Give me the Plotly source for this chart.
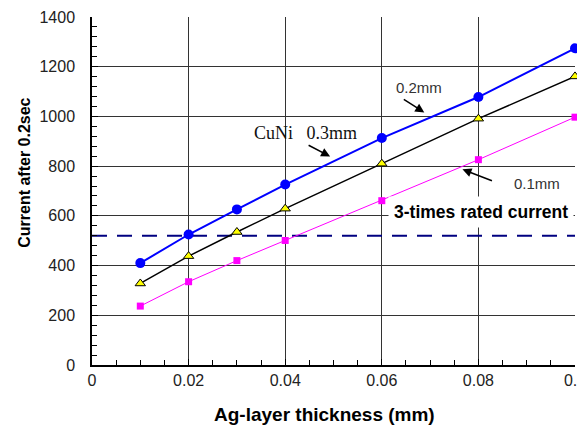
import plotly.graph_objects as go

thickness = [0.01, 0.02, 0.03, 0.04, 0.06, 0.08, 0.1]
cuni_02 = [410, 525, 626, 726, 913, 1078, 1274]
cuni_03 = [328, 438, 535, 629, 810, 991, 1161]
cuni_01 = [237, 335, 420, 501, 661, 826, 997]
rated_x = [0, 0.1]
rated_current = 520

x_ticks = [0, 0.02, 0.04, 0.06, 0.08, 0.1]
x_tick_labels = ["0", "0.02", "0.04", "0.06", "0.08", "0.1"]
y_ticks = [0, 200, 400, 600, 800, 1000, 1200, 1400]

FONT = "Arial, Liberation Sans, sans-serif"

fig = go.Figure()

fig.add_trace(go.Scatter(
    x=rated_x, y=[rated_current] * len(rated_x), mode="lines",
    line=dict(color="#000080", width=2, dash="15px,10px"),
    showlegend=False, hoverinfo="skip", cliponaxis=False))

fig.add_trace(go.Scatter(
    x=thickness, y=cuni_01, mode="lines+markers",
    line=dict(color="#FF00FF", width=1),
    marker=dict(symbol="square", size=7, color="#FF00FF"),
    showlegend=False, cliponaxis=False))

fig.add_trace(go.Scatter(
    x=thickness, y=cuni_03, mode="lines+markers",
    line=dict(color="#000000", width=1.5),
    marker=dict(symbol="triangle-up", size=9, color="#FFFF00",
                line=dict(color="#000000", width=1)),
    showlegend=False, cliponaxis=False))

fig.add_trace(go.Scatter(
    x=thickness, y=cuni_02, mode="lines+markers",
    line=dict(color="#0000FF", width=2),
    marker=dict(symbol="circle", size=10, color="#0000FF"),
    showlegend=False, cliponaxis=False))

annotations = [
    # arrows
    dict(x=0.0688, y=1016, ax=-22, ay=-14, text="", showarrow=True,
         arrowhead=2, arrowsize=1.2, arrowwidth=1.5, arrowcolor="#000000"),
    dict(x=0.0493, y=839, ax=-23, ay=-12, text="", showarrow=True,
         arrowhead=2, arrowsize=1.2, arrowwidth=1.5, arrowcolor="#000000"),
    dict(x=0.0767, y=787, ax=31, ay=12, text="", showarrow=True,
         arrowhead=2, arrowsize=1.2, arrowwidth=1.5, arrowcolor="#000000"),
    # labels
    dict(x=0.0676, y=1117, text="0.2mm", showarrow=False,
         font=dict(family=FONT, size=15, color="#333333")),
    dict(x=0.0441, y=932, text="CuNi&nbsp;&nbsp;&nbsp;0.3mm", showarrow=False,
         font=dict(family="Times New Roman, Liberation Serif, serif", size=18, color="#111111")),
    dict(x=0.0922, y=731, text="0.1mm", showarrow=False,
         font=dict(family=FONT, size=15, color="#333333")),
    dict(x=0.0806, y=614, text="<b>3-times rated current</b>", showarrow=False,
         bgcolor="#FFFFFF", borderpad=5,
         font=dict(family=FONT, size=17.5, color="#000000")),
    # axis titles
    dict(xref="paper", yref="paper", x=0.482, y=-0.141, xanchor="center", yanchor="middle",
         text="<b>Ag-layer thickness (mm)</b>", showarrow=False,
         font=dict(family=FONT, size=19, color="#000000")),
    dict(xref="paper", yref="paper", x=-0.139, y=0.552, xanchor="center", yanchor="middle",
         text="<b>Current after 0.2sec</b>", textangle=-90, showarrow=False,
         font=dict(family=FONT, size=16, color="#000000")),
]

# page body has an 8px margin: figure sized/offset so the plot lands where the reference has it
fig.update_layout(
    width=577, height=418,
    margin=dict(l=84, r=10, t=9, b=61, autoexpand=False),
    paper_bgcolor="#FFFFFF", plot_bgcolor="#FFFFFF",
    annotations=annotations,
    xaxis=dict(
        range=[0, 0.1], tickvals=x_ticks, ticktext=x_tick_labels,
        showgrid=True, gridcolor="#333333", gridwidth=1,
        showline=True, linecolor="#000000", linewidth=1.5,
        ticks="inside", ticklen=6, tickcolor="#000000",
        minor=dict(dtick=0.005, tick0=0, ticks="inside", ticklen=5, tickcolor="#000000", showgrid=False),
        tickfont=dict(family=FONT, size=16, color="#222222"),
        ticklabeloverflow="allow",
        zeroline=False, fixedrange=True, automargin=False),
    yaxis=dict(
        range=[0, 1400], tickvals=y_ticks,
        showgrid=True, gridcolor="#333333", gridwidth=1,
        showline=True, linecolor="#000000", linewidth=1.5,
        ticks="inside", ticklen=6, tickcolor="#000000",
        minor=dict(dtick=40, tick0=0, ticks="inside", ticklen=5, tickcolor="#000000", showgrid=False),
        tickfont=dict(family=FONT, size=16, color="#222222"),
        ticklabelstandoff=12, ticklabeloverflow="allow",
        zeroline=False, fixedrange=True, automargin=False),
)

fig.write_html("out.html")
